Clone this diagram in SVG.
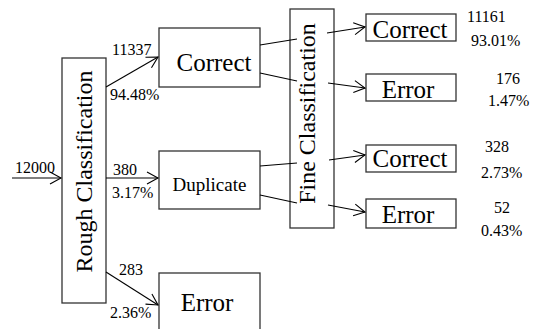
<svg xmlns="http://www.w3.org/2000/svg" width="535" height="329" viewBox="0 0 535 329">
<style>
text{font-family:'Liberation Serif',Tinos,'Times New Roman',Times,'Noto Serif','Nimbus Roman','Nimbus Roman No9 L',FreeSerif,'DejaVu Serif',serif;fill:#000}
.box{fill:#fff;stroke:#333;stroke-width:1.3}
.big{font-size:25px;text-anchor:middle}
.lbl{font-size:16px}
.con line{stroke:#000;stroke-width:1.1}
.arr{marker-end:url(#ah)}
</style>
<defs>
<marker id="ah" markerUnits="userSpaceOnUse" viewBox="-13 -8 15 16" refX="0" refY="0" markerWidth="15" markerHeight="16" orient="auto">
<path d="M-11,-6 L0,0 L-11,6" fill="none" stroke="#000" stroke-width="1.1"/>
</marker>
</defs>
<rect width="535" height="329" fill="#fff"/>

<g id="rough">
<rect class="box" x="62" y="58" width="44" height="245"/>
<text transform="translate(92,171.5) rotate(-90)" font-size="24" text-anchor="middle">Rough Classification</text>
</g>
<g id="correct1">
<rect class="box" x="159" y="28" width="101" height="59"/>
<text class="big" x="214" y="71">Correct</text>
</g>
<g id="duplicate">
<rect class="box" x="159" y="151" width="101" height="58"/>
<text x="209.5" y="191" font-size="19" text-anchor="middle">Duplicate</text>
</g>
<g id="error1">
<rect class="box" x="159" y="273" width="101" height="70"/>
<text class="big" x="207" y="311">Error</text>
</g>
<g id="fine">
<rect class="box" x="290" y="9" width="44" height="219"/>
<text transform="translate(315,113.5) rotate(-90)" font-size="24" text-anchor="middle">Fine Classification</text>
</g>
<g id="correct2">
<rect class="box" x="366" y="14" width="90" height="27"/>
<text class="big" x="410" y="38">Correct</text>
</g>
<g id="error2">
<rect class="box" x="366" y="74" width="90" height="27"/>
<text class="big" x="408" y="98">Error</text>
</g>
<g id="correct3">
<rect class="box" x="366" y="145" width="90" height="27"/>
<text class="big" x="410" y="167">Correct</text>
</g>
<g id="error3">
<rect class="box" x="366" y="199" width="90" height="29"/>
<text class="big" x="408" y="223">Error</text>
</g>

<g id="connectors" class="con">
<line class="arr" x1="12" y1="178" x2="61" y2="178"/>
<line class="arr" x1="106" y1="87" x2="158" y2="57"/>
<line class="arr" x1="106" y1="178" x2="158" y2="178"/>
<line class="arr" x1="106" y1="272" x2="158" y2="305"/>
<line x1="260" y1="45" x2="297" y2="39"/>
<line x1="260" y1="73" x2="297" y2="81"/>
<line x1="260" y1="166" x2="297" y2="163"/>
<line x1="260" y1="195" x2="297" y2="203"/>
<line class="arr" x1="327" y1="33" x2="365" y2="27"/>
<line class="arr" x1="328" y1="83" x2="365" y2="88"/>
<line class="arr" x1="329" y1="160" x2="365" y2="155"/>
<line class="arr" x1="328" y1="205" x2="365" y2="212"/>
</g>

<g id="labels" class="lbl">
<text x="15" y="173">12000</text>
<text x="112" y="55">11337</text>
<text x="110" y="100">94.48%</text>
<text x="113" y="175">380</text>
<text x="112" y="198">3.17%</text>
<text x="119" y="275">283</text>
<text x="110" y="318">2.36%</text>
<text x="467" y="22">11161</text>
<text x="471" y="46">93.01%</text>
<text x="496" y="84">176</text>
<text x="488" y="106">1.47%</text>
<text x="485" y="152">328</text>
<text x="481" y="178">2.73%</text>
<text x="494" y="213">52</text>
<text x="481" y="236">0.43%</text>
</g>
</svg>
